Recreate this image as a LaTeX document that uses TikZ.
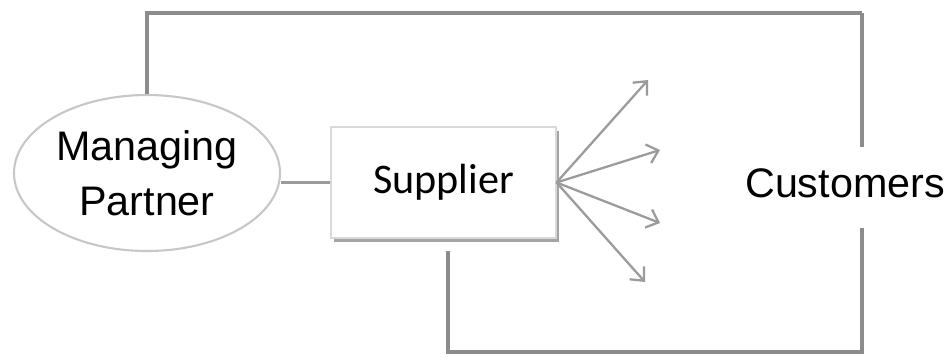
\documentclass[tikz,border=0pt]{standalone}
\usepackage{fontspec}
\setmainfont{Liberation Sans}
\newfontfamily\supfont{Carlito}
\usetikzlibrary{shapes.geometric,arrows.meta,shadows}

\definecolor{framegray}{RGB}{140,140,140}
\definecolor{fangray}{RGB}{155,155,155}

\begin{document}
\begin{tikzpicture}[thick,
    big/.style = {font=\fontsize{23.5}{31}\selectfont},
    main/.style = {draw=black!22, line width=1.2pt, ellipse, inner sep=0pt,
                   minimum width=5.32cm, minimum height=3.12cm, align=center, big},
    box/.style = {draw=black!15, line width=0.6pt, fill=white, minimum width=4.5cm,
                  minimum height=2.22cm,
                  drop shadow={shadow xshift=1.6pt, shadow yshift=-2.2pt, opacity=.55, fill=black!65}},
    frame/.style = {draw=framegray, line width=1.8pt},
    fan/.style = {draw=fangray, line width=1.3pt, -{Straight Barb[length=6pt,width=11pt]}}]
    \useasboundingbox (0,0) rectangle (19.02,7.12);

    \node[main] (1) at (2.94,3.66) {Managing\\Partner};
    \node[box] (2) at (8.87,3.47) {\supfont\fontsize{24}{28}\selectfont Supplier};
    \node[big] (3) at (16.9,3.46) {Customers};

    % loop ends above and below the customers label
    \coordinate (top) at (17.24,6.86);
    \coordinate (a) at (17.24,4.18);
    \coordinate (b) at (17.24,2.56);
    \coordinate (bot) at (17.24,0.08);

    \draw[frame, line width=2.2pt] (1.north) |- (top);
    \draw[frame] (top) -- (a);
    \draw[frame, shorten <=7pt] (2.south -| 8.96,0) |- (bot) -- (b);
    \draw[draw=fangray, line width=1.2pt] (2.west) -- (2.west -| 1.east);

    % supplier fans out towards the customers
    \coordinate (f1) at (12.96,5.52);
    \coordinate (f2) at (13.2,4.12);
    \coordinate (f3) at (13.2,2.66);
    \coordinate (f4) at (12.9,1.48);
    \foreach \f in {f1,f2,f3,f4}
        \draw[fan] (2.east) -- (\f);

\end{tikzpicture}
\end{document}
